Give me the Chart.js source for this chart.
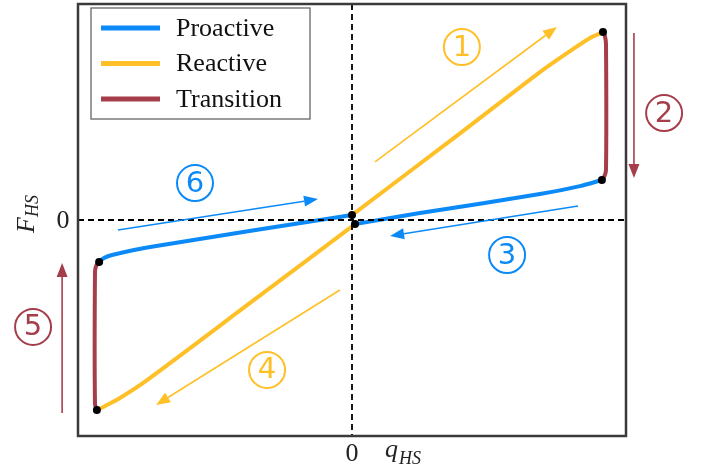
<!DOCTYPE html>
<html>
<head>
<meta charset="utf-8">
<script src="https://cdn.jsdelivr.net/npm/chart.js@4/dist/chart.umd.min.js"></script>
<style>
  html, body { margin: 0; padding: 0; background: #fff; }
</style>
</head>
<body>
<canvas id="chart" width="706" height="474"></canvas>
<script>
// hysteresis loop pieces, in axis units (x: q_HS, y: F_HS), traced in order 1..6
const reactiveUpX = [0, 0.358, 0.686, 0.796, 0.869, 0.916];
const reactiveUpY = [0.023, 0.366, 0.685, 0.782, 0.843, 0.870];

const transitionRightX = [0.916, 0.923, 0.927, 0.927, 0.920, 0.912];
const transitionRightY = [0.870, 0.852, 0.815, 0.231, 0.199, 0.185];

const proactiveRightX = [0.912, 0.832, 0.686, 0.248, 0.011];
const proactiveRightY = [0.185, 0.157, 0.120, 0.032, -0.019];

const reactiveDownX = [0.011, -0.372, -0.748, -0.847, -0.901, -0.931];
const reactiveDownY = [-0.019, -0.384, -0.741, -0.824, -0.861, -0.880];

const transitionLeftX = [-0.931, -0.938, -0.938, -0.934, -0.923];
const transitionLeftY = [-0.880, -0.852, -0.241, -0.213, -0.194];

const proactiveLeftX = [-0.923, -0.905, -0.876, -0.737, 0];
const proactiveLeftY = [-0.194, -0.176, -0.162, -0.125, 0.023];

// switching points
const dotX = [0.916, 0.912, 0, 0.011, -0.923, -0.931];
const dotY = [0.870, 0.185, 0.023, -0.019, -0.194, -0.880];

// direction arrows (start -> end) and their step numbers
const arrowFromX = [0.084, 1.029, 0.825, -0.044, -1.058, -0.854];
const arrowFromY = [0.269, 0.866, 0.065, -0.324, -0.894, -0.046];
const arrowToX = [0.748, 1.029, 0.139, -0.715, -1.058, -0.124];
const arrowToY = [0.894, 0.194, -0.074, -0.856, -0.199, 0.097];
const stepLabels = ['1', '2', '3', '4', '5', '6'];
const stepX = [0.401, 1.139, 0.566, -0.310, -1.164, -0.573];
const stepY = [0.801, 0.495, -0.162, -0.694, -0.495, 0.171];

const legendNames = ['Proactive', 'Reactive', 'Transition'];

const BLUE = '#0b8af7';
const YELLOW = '#ffbf27';
const RED = '#a63d4b';
const stepColors = [YELLOW, RED, BLUE, YELLOW, RED, BLUE];

function pts(xs, ys) {
  return xs.map((x, i) => ({x: x, y: ys[i]}));
}

function seg(label, xs, ys, color) {
  return {
    label: label,
    data: pts(xs, ys),
    showLine: true,
    borderColor: color,
    backgroundColor: color,
    borderWidth: 4,
    pointRadius: 0,
    tension: 0.3,
    borderCapStyle: 'round',
    borderJoinStyle: 'round'
  };
}

const serif = '"Liberation Serif", "Times New Roman", serif';

const decorations = {
  id: 'decorations',
  afterDatasetsDraw(chart) {
    const ctx = chart.ctx;
    const xs = chart.scales.x, ys = chart.scales.y;
    const a = chart.chartArea;
    const px = v => xs.getPixelForValue(v);
    const py = v => ys.getPixelForValue(v);

    ctx.save();
    // dashed zero lines
    ctx.strokeStyle = '#000';
    ctx.lineWidth = 1.8;
    ctx.setLineDash([6, 4]);
    ctx.beginPath();
    ctx.moveTo(a.left, py(0)); ctx.lineTo(a.right, py(0));
    ctx.moveTo(px(0), a.top); ctx.lineTo(px(0), a.bottom);
    ctx.stroke();
    ctx.setLineDash([]);

    // switching point markers on top
    ctx.fillStyle = '#000';
    dotX.forEach((x, i) => {
      ctx.beginPath();
      ctx.arc(px(x), py(dotY[i]), 4, 0, Math.PI * 2);
      ctx.fill();
    });

    // arrows
    arrowFromX.forEach((x0, i) => {
      const x1 = px(x0), y1 = py(arrowFromY[i]);
      const x2 = px(arrowToX[i]), y2 = py(arrowToY[i]);
      const ang = Math.atan2(y2 - y1, x2 - x1);
      const hl = 14, hw = 5.5;
      const bx = x2 - hl * Math.cos(ang), by = y2 - hl * Math.sin(ang);
      ctx.strokeStyle = stepColors[i];
      ctx.fillStyle = stepColors[i];
      ctx.lineWidth = 1.6;
      ctx.beginPath();
      ctx.moveTo(x1, y1); ctx.lineTo(bx, by);
      ctx.stroke();
      ctx.beginPath();
      ctx.moveTo(x2, y2);
      ctx.lineTo(bx + hw * Math.sin(ang), by - hw * Math.cos(ang));
      ctx.lineTo(bx - hw * Math.sin(ang), by + hw * Math.cos(ang));
      ctx.closePath();
      ctx.fill();
    });

    // step numbers in circles
    ctx.font = '29px "DejaVu Sans"';
    ctx.textAlign = 'center';
    ctx.textBaseline = 'middle';
    stepLabels.forEach((s, i) => {
      const cx = px(stepX[i]), cy = py(stepY[i]);
      ctx.strokeStyle = stepColors[i];
      ctx.fillStyle = stepColors[i];
      ctx.lineWidth = 2;
      ctx.beginPath();
      ctx.arc(cx, cy, 18, 0, Math.PI * 2);
      ctx.stroke();
      ctx.fillText(s, cx, cy + 1);
    });
    ctx.restore();
  },
  afterDraw(chart) {
    const ctx = chart.ctx;
    const a = chart.chartArea;
    const xs = chart.scales.x, ys = chart.scales.y;
    ctx.save();

    // axes frame
    ctx.strokeStyle = '#3a3a3a';
    ctx.lineWidth = 2.5;
    ctx.strokeRect(a.left, a.top, a.right - a.left, a.bottom - a.top);

    // legend
    const lx = 91, ly = 8, lw = 219, lh = 111;
    ctx.fillStyle = '#fff';
    ctx.fillRect(lx, ly, lw, lh);
    ctx.strokeStyle = '#666';
    ctx.lineWidth = 1.3;
    ctx.strokeRect(lx, ly, lw, lh);
    ctx.font = '26px ' + serif;
    ctx.textBaseline = 'middle';
    ctx.textAlign = 'left';
    legendNames.forEach((name, i) => {
      const ds = chart.data.datasets.find(d => d.label === name);
      const y = 28 + i * 35.5;
      ctx.strokeStyle = ds.borderColor;
      ctx.lineWidth = 5;
      ctx.beginPath();
      ctx.moveTo(101, y); ctx.lineTo(160, y);
      ctx.stroke();
      ctx.fillStyle = '#111';
      ctx.fillText(name, 176, y + 1);
    });

    // zero tick labels
    ctx.fillStyle = '#222';
    ctx.font = '26px ' + serif;
    ctx.textAlign = 'center';
    ctx.textBaseline = 'middle';
    ctx.fillText('0', xs.getPixelForValue(0), 454);
    ctx.fillText('0', 63, ys.getPixelForValue(0) + 1);

    // axis titles
    ctx.textAlign = 'left';
    ctx.textBaseline = 'alphabetic';
    ctx.font = 'italic 26px ' + serif;
    ctx.fillText('q', 385, 457);
    const qw = ctx.measureText('q').width;
    ctx.font = 'italic 18px ' + serif;
    ctx.fillText('HS', 385 + qw + 1, 464);

    ctx.translate(34, 233);
    ctx.rotate(-Math.PI / 2);
    ctx.font = 'italic 26px ' + serif;
    ctx.fillText('F', 0, 0);
    const fw = ctx.measureText('F').width;
    ctx.font = 'italic 18px ' + serif;
    ctx.fillText('HS', fw, 4);
    ctx.restore();
  }
};

new Chart(document.getElementById('chart'), {
  type: 'scatter',
  data: {
    datasets: [
      seg('Reactive', reactiveUpX, reactiveUpY, YELLOW),
      seg('Reactive', reactiveDownX, reactiveDownY, YELLOW),
      seg('Proactive', proactiveRightX, proactiveRightY, BLUE),
      seg('Proactive', proactiveLeftX, proactiveLeftY, BLUE),
      seg('Transition', transitionRightX, transitionRightY, RED),
      seg('Transition', transitionLeftX, transitionLeftY, RED)
    ]
  },
  options: {
    responsive: false,
    animation: false,
    layout: { padding: { left: 78, right: 80, top: 4, bottom: 38 } },
    plugins: { legend: { display: false }, tooltip: { enabled: false } },
    scales: {
      x: { type: 'linear', min: -1, max: 1, display: false },
      y: { type: 'linear', min: -1, max: 1, display: false }
    }
  },
  plugins: [decorations]
});
</script>
</body>
</html>
